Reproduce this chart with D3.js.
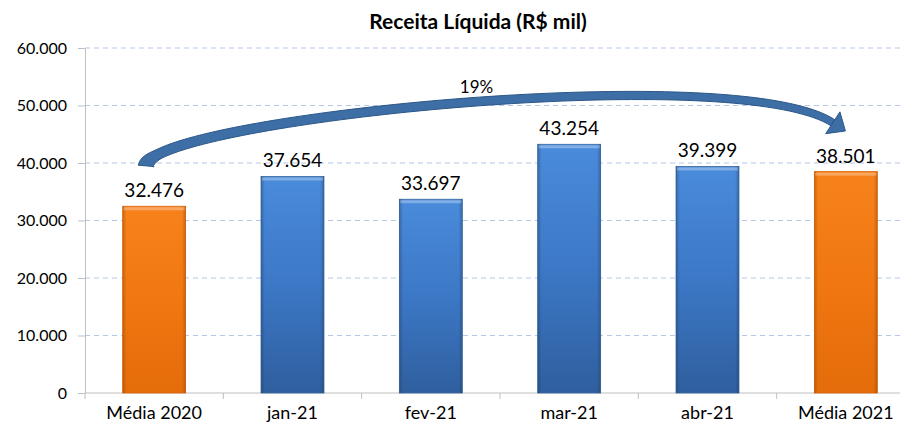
<!DOCTYPE html>
<html>
<head>
<meta charset="utf-8">
<script src="https://cdn.jsdelivr.net/npm/d3@7"></script>
<style>
  body { margin: 0; background: #fff; }
  svg { display: block; font-family: Lato, "Open Sans", sans-serif; }
</style>
</head>
<body>
<svg id="chartArea" width="902" height="427"></svg>
<script>
// data
const categories = ["Média 2020", "jan-21", "fev-21", "mar-21", "abr-21", "Média 2021"];
const values = [32476, 37654, 33697, 43254, 39399, 38501];
const isAverage = [true, false, false, false, false, true];
const yTicks = [0, 10000, 20000, 30000, 40000, 50000, 60000];
const growthLabel = "19%";
const title = "Receita Líquida (R$ mil)";

const fmt = v => v === 0 ? "0" : d3.format(",")(v).replace(/,/g, ".");

const svg = d3.select("#chartArea");
const plotLeft = 85, plotRight = 915, plotTop = 48, plotBottom = 393;

const x = d3.scaleBand()
    .domain(categories)
    .range([plotLeft, plotRight])
    .paddingInner(0.545)
    .paddingOuter(0.2725);

const y = d3.scaleLinear()
    .domain([0, 60000])
    .range([plotBottom, plotTop]);

// gradients
const defs = svg.append("defs");
function makeGrad(id, stops) {
    let g = defs.append("linearGradient").attr("id", id)
        .attr("x1", 0).attr("y1", 0).attr("x2", 0).attr("y2", 1);
    stops.forEach(s => g.append("stop").attr("offset", s[0]).attr("stop-color", s[1]));
}
makeGrad("blueGrad", [[0, "#4a8bdb"], [0.5, "#3c78c6"], [1, "#2f5f9e"]]);
makeGrad("orangeGrad", [[0, "#f7821c"], [0.5, "#f07711"], [1, "#e46c0a"]]);
function makeEdge(id, c) {
    let g = defs.append("linearGradient").attr("id", id)
        .attr("x1", 0).attr("y1", 0).attr("x2", 1).attr("y2", 0);
    g.append("stop").attr("offset", 0).attr("stop-color", c).attr("stop-opacity", 0.35);
    g.append("stop").attr("offset", 0.06).attr("stop-color", c).attr("stop-opacity", 0);
    g.append("stop").attr("offset", 0.94).attr("stop-color", c).attr("stop-opacity", 0);
    g.append("stop").attr("offset", 1).attr("stop-color", c).attr("stop-opacity", 0.35);
}
makeEdge("edgeDark", "#1a2f50");
makeEdge("edgeDarkO", "#7a3500");

// title
svg.append("text")
    .attr("x", 478).attr("y", 29)
    .attr("text-anchor", "middle")
    .style("font-size", "21px")
    .style("font-weight", "bold")
    .text(title);

// gridlines
svg.append("g").selectAll("line")
    .data(yTicks.filter(d => d > 0))
    .enter().append("line")
    .attr("x1", plotLeft).attr("x2", 900)
    .attr("y1", d => y(d)).attr("y2", d => y(d))
    .attr("stroke", "#b4c7e7")
    .attr("stroke-width", 1)
    .attr("stroke-dasharray", "5,4");

// y axis
const yAxis = svg.append("g")
    .attr("transform", `translate(${plotLeft},0)`)
    .call(d3.axisLeft(y).tickValues(yTicks).tickFormat(fmt).tickSize(7).tickSizeOuter(0));
yAxis.select(".domain").attr("stroke", "#bfbfbf");
yAxis.selectAll(".tick line").attr("stroke", "#bfbfbf");
yAxis.selectAll(".tick text")
    .attr("x", -18)
    .style("font-size", "16px")
    .style("font-family", "Lato, 'Open Sans', sans-serif")
    .attr("fill", "#000");

// x axis
const xAxis = svg.append("g")
    .attr("transform", `translate(0,${plotBottom})`);
xAxis.append("line")
    .attr("x1", plotLeft).attr("x2", 900)
    .attr("y1", 0).attr("y2", 0)
    .attr("stroke", "#bfbfbf");
xAxis.selectAll(".xtick")
    .data(categories)
    .enter().append("line")
    .attr("x1", d => x(d) - x.step() * x.paddingInner() / 2)
    .attr("x2", d => x(d) - x.step() * x.paddingInner() / 2)
    .attr("y1", 0).attr("y2", 6)
    .attr("stroke", "#bfbfbf");
xAxis.selectAll(".xlabel")
    .data(categories)
    .enter().append("text")
    .attr("x", d => x(d) + x.bandwidth() / 2)
    .attr("y", 26)
    .attr("text-anchor", "middle")
    .style("font-size", "18px")
    .text(d => d);

// bars
const bars = svg.append("g").selectAll("g")
    .data(categories.map((c, i) => ({cat: c, value: values[i], avg: isAverage[i]})))
    .enter().append("g");

bars.append("rect")
    .attr("x", d => x(d.cat))
    .attr("y", d => y(d.value))
    .attr("width", x.bandwidth())
    .attr("height", d => y(0) - y(d.value))
    .attr("fill", d => d.avg ? "url(#orangeGrad)" : "url(#blueGrad)")
    .attr("stroke", d => d.avg ? "#d9650a" : "#35679f")
    .attr("stroke-width", 0.8);

bars.append("rect")
    .attr("x", d => x(d.cat))
    .attr("y", d => y(d.value))
    .attr("width", x.bandwidth())
    .attr("height", d => y(0) - y(d.value))
    .attr("fill", d => d.avg ? "url(#edgeDarkO)" : "url(#edgeDark)");

bars.append("rect")
    .attr("x", d => x(d.cat) + 1)
    .attr("y", d => y(d.value) + 1)
    .attr("width", x.bandwidth() - 2)
    .attr("height", 3)
    .attr("fill", "#ffffff")
    .attr("opacity", 0.3);

bars.append("text")
    .attr("x", d => x(d.cat) + x.bandwidth() / 2)
    .attr("y", d => y(d.value) - 9)
    .attr("text-anchor", "middle")
    .style("font-size", "19px")
    .text(d => fmt(d.value));

// growth arrow from first average to last average (tapered ribbon)
const c0 = x(categories[0]) + x.bandwidth() / 2;
const c5 = x(categories[5]) + x.bandwidth() / 2;
const p0 = [c0 - 8, y(39500)];
const p1 = [c0 - 4, y(47500)];
const p2 = [x(categories[4]) + 60, y(58000)];
const p3 = [c5 - 13, y(47000)];

function bez(t, i) {
    const u = 1 - t;
    return u*u*u*p0[i] + 3*u*u*t*p1[i] + 3*u*t*t*p2[i] + t*t*t*p3[i];
}
function bezD(t, i) {
    const u = 1 - t;
    return 3*u*u*(p1[i]-p0[i]) + 6*u*t*(p2[i]-p1[i]) + 3*t*t*(p3[i]-p2[i]);
}
const n = 80;
const sideA = [], sideB = [];
for (let k = 0; k <= n; k++) {
    const t = k / n;
    const px = bez(t, 0), py = bez(t, 1);
    const dx = bezD(t, 0), dy = bezD(t, 1);
    const len = Math.hypot(dx, dy);
    const nx = -dy / len, ny = dx / len;
    const w = (t < 0.08 ? 16 - (t / 0.08) * 6 : 10 - (t - 0.08) * 3) / 2;
    sideA.push([px + nx * w, py + ny * w]);
    sideB.push([px - nx * w, py - ny * w]);
}
const ribbon = sideA.concat(sideB.reverse());
svg.append("path")
    .attr("d", d3.line()(ribbon) + "Z")
    .attr("fill", "#3d6ea6")
    .attr("stroke", "#2b5787")
    .attr("stroke-width", 1);

// arrowhead
const ang = Math.atan2(bezD(1, 1), bezD(1, 0));
const tipLen = 15, halfW = 13;
const tip = [p3[0] + Math.cos(ang) * tipLen, p3[1] + Math.sin(ang) * tipLen];
const b1 = [p3[0] + Math.cos(ang + Math.PI / 2) * halfW, p3[1] + Math.sin(ang + Math.PI / 2) * halfW];
const b2 = [p3[0] + Math.cos(ang - Math.PI / 2) * halfW, p3[1] + Math.sin(ang - Math.PI / 2) * halfW];
svg.append("path")
    .attr("d", `M${b1[0]},${b1[1]} L${tip[0]},${tip[1]} L${b2[0]},${b2[1]} Z`)
    .attr("fill", "#3d6ea6")
    .attr("stroke", "#2b5787")
    .attr("stroke-width", 1);

svg.append("text")
    .attr("x", x(categories[2]) + x.bandwidth() / 2 + x.step() * 0.33)
    .attr("y", 93)
    .attr("text-anchor", "middle")
    .style("font-size", "17px")
    .text(growthLabel);
</script>
</body>
</html>
